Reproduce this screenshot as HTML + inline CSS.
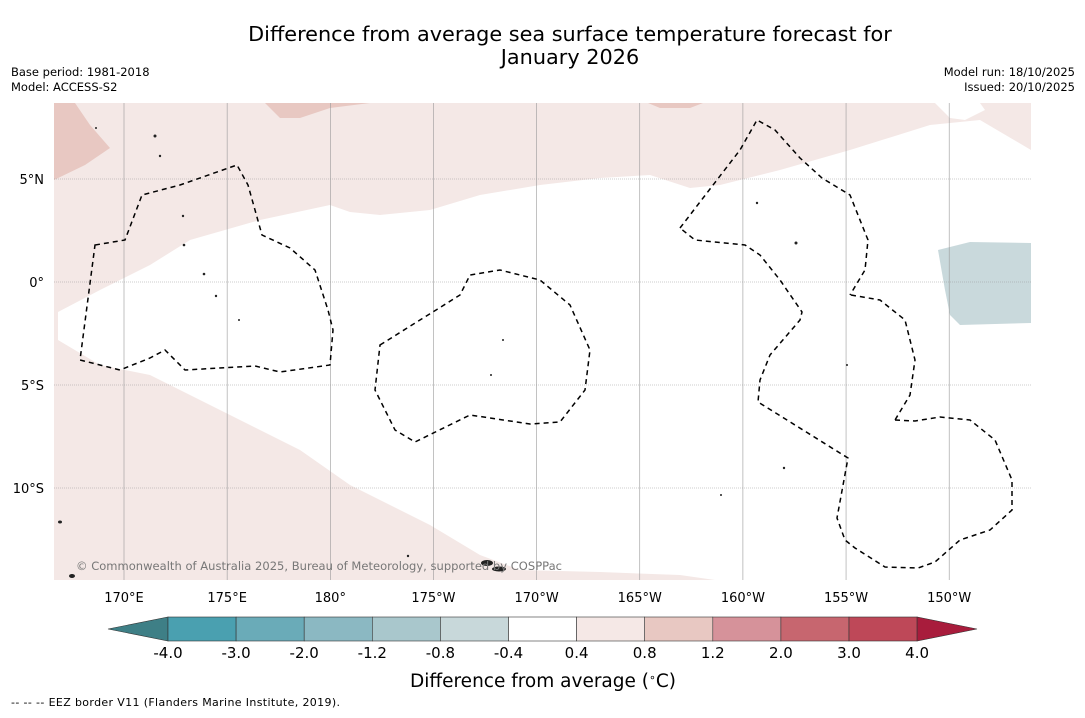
<!DOCTYPE html>
<html><head><meta charset="utf-8"><style>
body{margin:0;background:#fff;font-family:"Liberation Sans",sans-serif;}
svg text{font-family:"DejaVu Sans","Liberation Sans",sans-serif;}
</style></head><body>
<svg id="s" width="1085" height="713">
<rect width="1085" height="713" fill="#fff"/>
<text x="570" y="41" font-size="20.8" text-anchor="middle">Difference from average sea surface temperature forecast for</text>
<text x="570" y="64" font-size="20.8" text-anchor="middle">January 2026</text>
<text x="11" y="76" font-size="11.5">Base period: 1981-2018</text>
<text x="11" y="91" font-size="11.5">Model: ACCESS-S2</text>
<text x="1075" y="76" font-size="11.5" text-anchor="end">Model run: 18/10/2025</text>
<text x="1075" y="91" font-size="11.5" text-anchor="end">Issued: 20/10/2025</text>
<g>
<rect x="54" y="103" width="977" height="477" fill="#f4e8e6"/>
<path fill="#fff" d="M58,312 L100,290 150,265 190,240 260,220 330,205 350,212 380,215 430,210 480,195 540,185 600,178 650,175 690,188 720,185 780,170 850,150 930,125 980,120 1031,150 1031,580 715,580 680,575 600,572 520,570 480,555 430,525 380,500 350,485 300,450 250,425 200,400 150,375 100,365 58,340Z"/>
<path fill="#fff" d="M935,103 L950,118 965,120 985,110 980,103Z"/>
<path fill="#e8c8c2" d="M54,103 L75,103 90,125 110,148 85,165 54,180Z"/>
<path fill="#e8c8c2" d="M265,103 L370,103 330,108 300,118 280,118Z"/>
<path fill="#e8c8c2" d="M648,103 L703,103 690,108 660,108Z"/>
<path fill="#c9d9dc" d="M938,250 L970,242 1031,243 1031,323 960,325 950,315 945,290Z"/>
<g id="grid" stroke="#999" stroke-width="0.6"></g>
<g fill="none" stroke="#000" stroke-width="1.5" stroke-dasharray="5,4">
<path d="M95,245 L125,240 142,195 180,185 237,165 248,185 262,235 290,248 315,270 328,310 333,330 330,365 280,372 255,366 185,370 165,350 150,358 120,370 80,360Z"/>
<path d="M380,345 L460,295 470,275 500,270 540,280 570,305 590,350 585,390 560,422 530,424 470,415 415,442 395,430 375,390Z"/>
<path d="M680,228 L740,150 757,120 775,130 800,158 822,178 850,195 868,240 865,270 850,295"/>
<path d="M851,295 L880,300 905,320 915,360 910,395 895,420"/>
<path d="M895,420 L915,421 940,417 970,420 995,440 1012,480 1012,510 990,530 960,540 935,562 918,568 885,567 855,548 845,540 837,518 848,458 758,402 760,380 770,355 800,320 802,312 780,280 760,255 745,245 695,240 680,228"/>
</g>
<g fill="#222">
<ellipse cx="487" cy="563" rx="6" ry="3"/><ellipse cx="499" cy="569" rx="7" ry="2.5"/><ellipse cx="72" cy="576" rx="3" ry="2"/><ellipse cx="60" cy="522" rx="2" ry="1.5"/>
<circle cx="155" cy="136" r="1.5"/><circle cx="160" cy="156" r="1.2"/><circle cx="184" cy="245" r="1.3"/><circle cx="204" cy="274" r="1.3"/><circle cx="216" cy="296" r="1.2"/><circle cx="239" cy="320" r="1"/><circle cx="796" cy="243" r="1.5"/><circle cx="757" cy="203" r="1.2"/><circle cx="784" cy="468" r="1.2"/><circle cx="721" cy="495" r="1"/><circle cx="408" cy="556" r="1.2"/><circle cx="183" cy="216" r="1.2"/><circle cx="96" cy="128" r="1"/><circle cx="847" cy="365" r="1"/><circle cx="503" cy="340" r="1"/><circle cx="491" cy="375" r="1"/>
</g>
<text x="76" y="570" font-size="11.5" fill="#777" textLength="486">© Commonwealth of Australia 2025, Bureau of Meteorology, supported by COSPPac</text>
</g>
<g id="axes"></g>
<g id="cbar"></g>
<text x="543" y="687" font-size="18.5" text-anchor="middle">Difference from average (<tspan font-size="11" dy="-6">∘</tspan><tspan dy="6">C)</tspan></text>
<text x="11" y="706" font-size="11" textLength="329">--  --  -- EEZ border V11 (Flanders Marine Institute, 2019).</text>
</svg>
<script>
const lonTicks=["170°E","175°E","180°","175°W","170°W","165°W","160°W","155°W","150°W"];
const lonValues=[170,175,180,185,190,195,200,205,210];
const latTicks=["5°N","0°","5°S","10°S"];
const latValues=[5,0,-5,-10];
const cbarBounds=["-4.0","-3.0","-2.0","-1.2","-0.8","-0.4","0.4","0.8","1.2","2.0","3.0","4.0"];
const cbarColors=["#4aa0b0","#6aabb8","#8bb8c2","#a9c7cc","#c8d8da","#ffffff","#f5e8e6","#e8c8c2","#d6929a","#c7666f","#be4858"];
const NS="http://www.w3.org/2000/svg";
const xLon=l=>124+(l-170)*20.63;
const yLat=l=>282-l*20.6;
function mk(t,a,p){const e=document.createElementNS(NS,t);for(const k in a)e.setAttribute(k,a[k]);p.appendChild(e);return e;}
const grid=document.getElementById('grid'),axes=document.getElementById('axes'),cb=document.getElementById('cbar');
lonValues.forEach((v,i)=>{const x=xLon(v);
 const l=mk('line',{x1:x,x2:x,y1:103,y2:580},grid);
 
 
 const t=mk('text',{x:x,y:602,'font-size':13,'text-anchor':'middle'},axes);t.textContent=lonTicks[i];
 
 });
latValues.forEach((v,i)=>{const y=yLat(v);
 const l=mk('line',{x1:54,x2:1031,y1:y,y2:y,'stroke-dasharray':'1,1'},grid);
 
 
 const t=mk('text',{x:44,y:y+5,'font-size':13,'text-anchor':'end'},axes);t.textContent=latTicks[i];
 
 });
const x0=168,w=68.1,cy=617,ch=24;
const la=mk('polygon',{points:`${x0},${cy} ${x0},${cy+ch} 108,${cy+ch/2}`,fill:'#3e7f86',stroke:'#333','stroke-width':0.6},cb);


cbarColors.forEach((c,i)=>{const r=mk('rect',{x:x0+i*w,y:cy,width:w,height:ch,fill:c,stroke:'#333','stroke-width':0.6},cb);
 
 });
const xe=x0+cbarColors.length*w;
const ra=mk('polygon',{points:`${xe},${cy} ${xe},${cy+ch} 977,${cy+ch/2}`,fill:'#a81c3c',stroke:'#333','stroke-width':0.6},cb);


cbarBounds.forEach((b,i)=>{const t=mk('text',{x:x0+i*w,y:658,'font-size':15,'text-anchor':'middle'},cb);t.textContent=b;
 
 });
</script>
</body></html>
